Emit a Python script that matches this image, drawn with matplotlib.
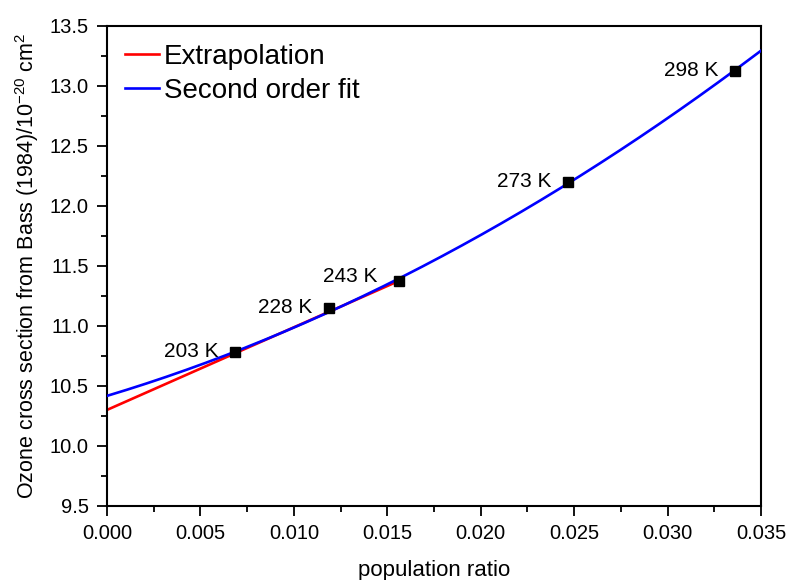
import numpy as np
import matplotlib
matplotlib.use("Agg")
import matplotlib.pyplot as plt
from matplotlib.ticker import MultipleLocator

plt.rcParams['font.family'] = ['Liberation Sans', 'DejaVu Sans']
plt.rcParams['mathtext.fontset'] = 'custom'
plt.rcParams['mathtext.rm'] = 'Liberation Sans'
plt.rcParams['mathtext.it'] = 'Liberation Sans'

# measured points (population ratio vs. cross section)
temps = ['203 K', '228 K', '243 K', '273 K', '298 K']
ratio = [0.00687, 0.01186, 0.01561, 0.02467, 0.03362]
sigma = [10.786, 11.152, 11.374, 12.201, 13.123]

# linear extrapolation of the three coldest points
extrap_coef = [10.30, 68.8]          # intercept, slope
extrap_range = [0.0, 0.0157]

# second order fit over all points
fit_coef = [10.417, 46.77, 1010.7]   # a + b*x + c*x^2
fit_range = [0.0, 0.035]

fig = plt.figure(figsize=(7.9, 5.8), dpi=100)
ax = fig.add_axes([0.1354, 0.1276, 0.8279, 0.8281])

xe = np.linspace(extrap_range[0], extrap_range[1], 50)
ax.plot(xe, extrap_coef[0] + extrap_coef[1] * xe, color='red', lw=1.9,
        label='Extrapolation', zorder=2)

xf = np.linspace(fit_range[0], fit_range[1], 200)
ax.plot(xf, fit_coef[0] + fit_coef[1] * xf + fit_coef[2] * xf**2,
        color='blue', lw=1.9, label='Second order fit', zorder=3)

ax.plot(ratio, sigma, 's', color='black', ms=7, zorder=4)

for t, x, y in zip(temps, ratio, sigma):
    dx, dy = (-15, 3) if t == '243 K' else (-12, 0)
    ax.annotate(t, (x, y), xytext=(dx, dy), textcoords='offset points',
                ha='right', va='center', fontsize=15)

ax.set_xlim(0, 0.035)
ax.set_ylim(9.5, 13.5)
ax.xaxis.set_major_locator(MultipleLocator(0.005))
ax.xaxis.set_minor_locator(MultipleLocator(0.0025))
ax.yaxis.set_major_locator(MultipleLocator(0.5))
ax.yaxis.set_minor_locator(MultipleLocator(0.25))
ax.set_xticklabels([f'{v:.3f}' for v in ax.get_xticks()])
ax.set_yticklabels([f'{v:.1f}' for v in ax.get_yticks()])

ax.tick_params(which='major', direction='out', length=7, width=1.3,
               labelsize=14.5, pad=6)
ax.tick_params(which='minor', direction='out', length=4, width=1.3)
for s in ax.spines.values():
    s.set_linewidth(1.5)

ax.set_xlabel('population ratio', fontsize=16, labelpad=12)
ax.set_ylabel('Ozone cross section from Bass (1984)/10$^{-20}$ cm$^{2}$',
              fontsize=15.5, labelpad=6)

ax.legend(loc='upper left', frameon=False, fontsize=20, handlelength=1.25,
          handletextpad=0.15, labelspacing=0.28, borderaxespad=0.0,
          bbox_to_anchor=(0.01, 0.985))

fig.savefig('out.png', dpi=100)
